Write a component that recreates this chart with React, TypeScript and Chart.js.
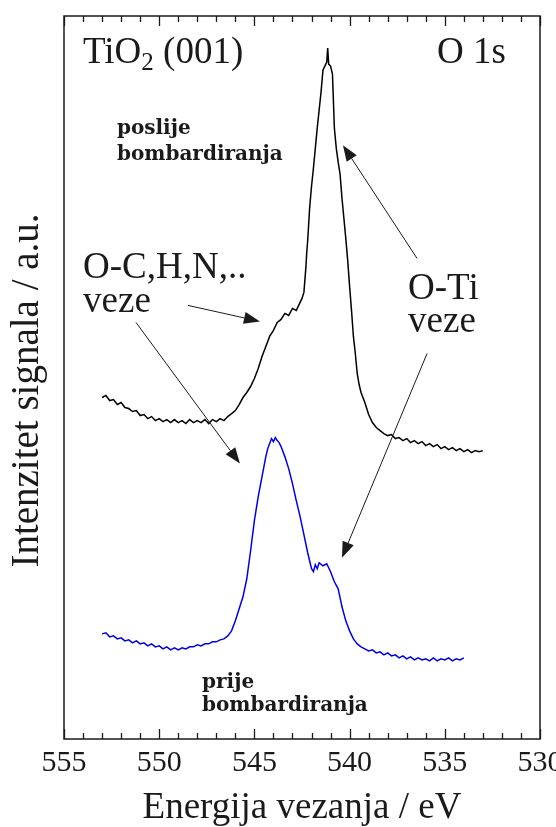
import { useEffect, useRef } from 'react';
import { Chart, registerables } from 'chart.js';

Chart.register(...registerables);

// Binding energy (eV) and intensity (a.u.)
const blackEnergy = [
  553.0, 552.8, 552.6, 552.4, 552.2, 552.0, 551.8, 551.6, 551.4, 551.2, 551.0, 550.8, 550.6, 550.4, 550.2, 550.0,
  549.8, 549.6, 549.4, 549.2, 549.0, 548.8, 548.6, 548.4, 548.2, 548.0, 547.8, 547.6, 547.4, 547.2, 547.0, 546.8,
  546.6, 546.4, 546.2, 546.0, 545.8, 545.6, 545.4, 545.2, 545.0, 544.8, 544.6, 544.4, 544.2, 544.0, 543.8, 543.6,
  543.4, 543.2, 543.0, 542.8, 542.6, 542.5, 542.4, 542.3, 542.25, 542.2, 542.1, 542.0, 541.9, 541.8, 541.7, 541.6,
  541.5, 541.4, 541.3, 541.2, 541.15, 541.1, 541.0, 540.9, 540.8, 540.7, 540.6, 540.5, 540.4, 540.3, 540.2, 540.1,
  540.0, 539.9, 539.8, 539.7, 539.6, 539.5, 539.4, 539.2, 539.0, 538.8, 538.6, 538.4, 538.2, 538.0, 537.8, 537.6,
  537.4, 537.2, 537.0, 536.8, 536.6, 536.4, 536.2, 536.0, 535.8, 535.6, 535.4, 535.2, 535.0, 534.8, 534.6, 534.4,
  534.2, 534.0, 533.8, 533.6, 533.4, 533.2, 533.0,
];
const blackIntensity = [
  341, 343, 338, 339, 334, 336, 331, 330, 327, 328, 323, 324, 320, 322, 318, 320,
  317, 319, 316, 319, 316, 318, 315, 319, 316, 318, 316, 319, 315, 319, 317, 320,
  318, 322, 325, 328, 334, 341, 346, 352, 360, 370, 382, 392, 402, 408, 416, 419,
  425, 423, 430, 428, 436, 440, 446, 470, 486, 498, 530, 552, 570, 590, 610, 628,
  646, 668, 672, 676, 690, 674, 672, 664, 610, 590, 576, 564, 540, 520, 500, 478,
  452, 428, 402, 385, 365, 354, 346, 336, 324, 316, 311, 308, 305, 303, 304, 300,
  301, 298, 300, 296, 298, 295, 297, 293, 295, 292, 294, 290, 292, 289, 291, 288,
  290, 287, 289, 286, 288, 287, 288,
];
const blueEnergy = [
  553.0, 552.8, 552.6, 552.4, 552.2, 552.0, 551.8, 551.6, 551.4, 551.2, 551.0, 550.8, 550.6, 550.4, 550.2, 550.0,
  549.8, 549.6, 549.4, 549.2, 549.0, 548.8, 548.6, 548.4, 548.2, 548.0, 547.8, 547.6, 547.4, 547.2, 547.0, 546.8,
  546.6, 546.4, 546.2, 546.0, 545.8, 545.6, 545.4, 545.2, 545.0, 544.8, 544.6, 544.4, 544.3, 544.2, 544.1, 544.0,
  543.9, 543.8, 543.7, 543.6, 543.4, 543.2, 543.0, 542.8, 542.6, 542.4, 542.2, 542.1, 542.0, 541.9, 541.8, 541.7,
  541.6, 541.4, 541.2, 541.0, 540.9, 540.8, 540.6, 540.4, 540.2, 540.0, 539.8, 539.6, 539.4, 539.2, 539.0, 538.8,
  538.6, 538.4, 538.2, 538.0, 537.8, 537.6, 537.4, 537.2, 537.0, 536.8, 536.6, 536.4, 536.2, 536.0, 535.8, 535.6,
  535.4, 535.2, 535.0, 534.8, 534.6, 534.4, 534.2, 534.0,
];
const blueIntensity = [
  105, 106, 102, 103, 100, 101, 98, 99, 96, 98, 95, 96, 93, 95, 92, 93,
  90, 92, 89, 91, 89, 91, 90, 92, 92, 94, 93, 95, 95, 97, 97, 99,
  100, 103, 108, 118, 130, 142, 160, 188, 218, 242, 262, 282, 290, 295, 300, 297,
  301, 298, 296, 292, 282, 270, 255, 238, 222, 204, 186, 178, 170, 167, 174, 170,
  176, 173, 175, 167, 162, 157, 150, 132, 118, 108, 100, 95, 92, 90, 88, 89,
  86, 87, 84, 86, 83, 84, 81, 83, 80, 82, 79, 81, 79, 80, 78, 81,
  78, 80, 79, 81, 78, 80, 79, 81,
];

const xMin = 530;
const xMax = 555;
const yMin = 0;
const yMax = 722;

// Annotations (placed in data coordinates: energy, intensity)
const textNotes = [
  { lines: ['O-C,H,N,..', 'veze'], e: 554.0, i: 460, gap: 34, font: '37px "Liberation Serif"', align: 'left' },
  { lines: ['O-Ti', 'veze'], e: 536.93, i: 439, gap: 33, font: '37px "Liberation Serif"', align: 'left' },
  { lines: ['poslije', 'bombardiranja'], e: 552.22, i: 604, gap: 26, font: 'bold 20px "DejaVu Serif"', align: 'left' },
  { lines: ['prije', 'bombardiranja'], e: 547.75, i: 51, gap: 23, font: 'bold 20px "DejaVu Serif"', align: 'left' },
  { lines: ['O 1s'], e: 531.79, i: 675, gap: 0, font: '37px "Liberation Serif"', align: 'right' },
];
const arrows = [
  { e0: 548.49, i0: 433, e1: 544.71, i1: 417 },
  { e0: 551.22, i0: 416, e1: 545.76, i1: 275 },
  { e0: 536.46, i0: 480, e1: 540.35, i1: 593 },
  { e0: 535.93, i0: 385, e1: 540.40, i1: 181 },
];
const sampleLabel = { e: 554.0, i: 675 };
const yTitle = { text: 'Intenzitet signala / a.u.', e: 553.1, i: 348 };

const decorPlugin = {
  id: 'decor',
  afterDraw(chart: any) {
    const { ctx, chartArea, scales } = chart;
    const { left, right, top, bottom } = chartArea;
    const x = scales.x;
    const y = scales.y;
    ctx.save();
    ctx.strokeStyle = '#1a1a1a';
    ctx.fillStyle = '#1a1a1a';
    ctx.lineWidth = 1.5;
    ctx.strokeRect(left, top, right - left, bottom - top);
    ctx.lineWidth = 1.3;
    for (let e = xMin; e <= xMax; e++) {
      const px = Math.round(x.getPixelForValue(e)) + 0.5;
      const len = e % 5 === 0 ? 10 : 6;
      ctx.beginPath();
      ctx.moveTo(px, bottom);
      ctx.lineTo(px, bottom - len);
      ctx.moveTo(px, top);
      ctx.lineTo(px, top + len);
      ctx.stroke();
    }

    // Y axis title (drawn slightly below the axis centre, as in the original)
    ctx.save();
    ctx.translate(28, y.getPixelForValue(yTitle.i));
    ctx.rotate(-Math.PI / 2);
    ctx.font = '39px "Liberation Serif"';
    ctx.textAlign = 'center';
    ctx.textBaseline = 'middle';
    ctx.fillText(yTitle.text, 0, 0);
    ctx.restore();

    // Sample label with subscript
    ctx.textBaseline = 'alphabetic';
    ctx.textAlign = 'left';
    let sx = x.getPixelForValue(sampleLabel.e);
    const sy = y.getPixelForValue(sampleLabel.i);
    ctx.font = '37px "Liberation Serif"';
    ctx.fillText('TiO', sx, sy);
    sx += ctx.measureText('TiO').width;
    ctx.font = '25px "Liberation Serif"';
    ctx.fillText('2', sx, sy + 7);
    sx += ctx.measureText('2').width;
    ctx.font = '37px "Liberation Serif"';
    ctx.fillText(' (001)', sx, sy);

    for (const n of textNotes) {
      ctx.font = n.font;
      ctx.textAlign = n.align;
      const px = x.getPixelForValue(n.e);
      const py = y.getPixelForValue(n.i);
      n.lines.forEach((t, k) => ctx.fillText(t, px, py + k * n.gap));
    }

    ctx.lineWidth = 1;
    for (const a of arrows) {
      const x0 = x.getPixelForValue(a.e0);
      const y0 = y.getPixelForValue(a.i0);
      const x1 = x.getPixelForValue(a.e1);
      const y1 = y.getPixelForValue(a.i1);
      const ang = Math.atan2(y1 - y0, x1 - x0);
      const hl = 16;
      const hw = 6;
      const bx = x1 - hl * Math.cos(ang);
      const by = y1 - hl * Math.sin(ang);
      ctx.beginPath();
      ctx.moveTo(x0, y0);
      ctx.lineTo(bx, by);
      ctx.stroke();
      ctx.beginPath();
      ctx.moveTo(x1, y1);
      ctx.lineTo(bx + hw * Math.sin(ang), by - hw * Math.cos(ang));
      ctx.lineTo(bx - hw * Math.sin(ang), by + hw * Math.cos(ang));
      ctx.closePath();
      ctx.fill();
    }
    ctx.restore();
  },
};

export default function App() {
  const ref = useRef<HTMLCanvasElement>(null);
  useEffect(() => {
    if (!ref.current) return;
    const chart = new Chart(ref.current, {
      type: 'line',
      data: {
        datasets: [
          {
            label: 'poslije bombardiranja',
            data: blackEnergy.map((e, k) => ({ x: e, y: blackIntensity[k] })),
            borderColor: '#000000',
            borderWidth: 1.5,
            pointRadius: 0,
            tension: 0,
          },
          {
            label: 'prije bombardiranja',
            data: blueEnergy.map((e, k) => ({ x: e, y: blueIntensity[k] })),
            borderColor: '#0000e6',
            borderWidth: 1.5,
            pointRadius: 0,
            tension: 0,
          },
        ],
      },
      options: {
        responsive: false,
        animation: false,
        devicePixelRatio: 1,
        layout: { padding: { top: 16, right: 16, bottom: 0, left: 0 } },
        plugins: { legend: { display: false }, tooltip: { enabled: false } },
        scales: {
          x: {
            type: 'linear',
            reverse: true,
            min: xMin,
            max: xMax,
            grid: { display: false, drawTicks: false },
            border: { display: false },
            ticks: {
              stepSize: 5,
              padding: 9,
              color: '#1a1a1a',
              font: { family: '"Liberation Serif"', size: 30, lineHeight: 1 },
            },
            title: {
              display: true,
              text: 'Energija vezanja / eV',
              color: '#1a1a1a',
              padding: { top: 0, bottom: 0 },
              font: { family: '"Liberation Serif"', size: 37, lineHeight: 1 },
            },
            afterFit: (s: any) => {
              s.height = 88;
              s.paddingLeft = 0;
              s.paddingRight = 0;
            },
          },
          y: {
            type: 'linear',
            min: yMin,
            max: yMax,
            grid: { display: false, drawTicks: false },
            border: { display: false },
            ticks: { display: false },
            title: { display: false },
            afterFit: (s: any) => {
              s.width = 64;
              s.paddingTop = 0;
              s.paddingBottom = 0;
            },
          },
        },
      },
      plugins: [decorPlugin],
    });
    return () => chart.destroy();
  }, []);
  return (
    <div style={{ position: 'absolute', left: 0, top: 0, width: 556, height: 827, background: '#fff' }}>
      <canvas ref={ref} width={556} height={827} />
    </div>
  );
}
